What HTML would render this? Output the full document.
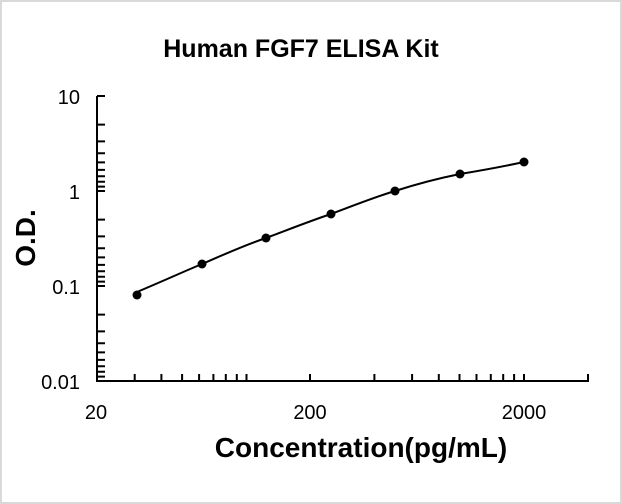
<!DOCTYPE html>
<html><head><meta charset="utf-8"><style>
html,body{margin:0;padding:0;background:#fff}
svg{display:block}
text{font-family:"Liberation Sans",sans-serif}
</style></head><body>
<svg width="622" height="504" viewBox="0 0 622 504" xmlns="http://www.w3.org/2000/svg">
<rect x="1" y="1" width="620" height="502" fill="#fff" stroke="#d9d9d9" stroke-width="2"/>
<text x="301" y="57" font-size="25" font-weight="bold" text-anchor="middle">Human FGF7 ELISA Kit</text>
<g stroke="#000" stroke-width="2" fill="none">
<path d="M97,96 V381 H589"/>
<path d="
M97,96h8 M97,124.6h8 M97,141.4h8 M97,153.2h8 M97,162.4h8 M97,169.9h8 M97,176.3h8 M97,181.8h8 M97,186.6h8
M97,191h8 M97,219.6h8 M97,236.4h8 M97,248.2h8 M97,257.4h8 M97,264.9h8 M97,271.3h8 M97,276.8h8 M97,281.6h8
M97,286h8 M97,314.6h8 M97,331.4h8 M97,343.2h8 M97,352.4h8 M97,359.9h8 M97,366.3h8 M97,371.8h8 M97,376.6h8"/>
<path d="
M134.7,381v-7 M161.4,381v-7 M182.1,381v-7 M199.1,381v-7 M213.4,381v-7 M225.8,381v-7 M236.8,381v-7 M246.5,381v-7
M310,381v-7 M374.4,381v-7 M412.1,381v-7 M438.8,381v-7 M459.5,381v-7 M476.5,381v-7 M490.8,381v-7 M503.2,381v-7 M514.1,381v-7
M524,381v-7 M588,381v-7"/>
<path d="M137,292 C170,278 185,271 202,264 C225,254 245,245 266,238 C290,229 310,221 331,214 C355,205 375,197 395,191 C420,183 440,178 460,174 C490,169 510,165 524,162"/>
</g>
<g fill="#000">
<circle cx="137" cy="295" r="4.5"/><circle cx="202" cy="264" r="4.5"/><circle cx="266" cy="238" r="4.5"/>
<circle cx="331" cy="214" r="4.5"/><circle cx="395" cy="191" r="4.5"/><circle cx="460" cy="174" r="4.5"/>
<circle cx="524" cy="162" r="4.5"/>
</g>
<g font-size="20" text-anchor="end">
<text x="80" y="104">10</text><text x="80" y="199">1</text><text x="80" y="294">0.1</text><text x="80" y="389">0.01</text>
</g>
<g font-size="20" text-anchor="middle">
<text x="96" y="419">20</text><text x="310" y="419">200</text><text x="524" y="419">2000</text>
</g>
<text x="361" y="457" font-size="28" font-weight="bold" text-anchor="middle">Concentration(pg/mL)</text>
<text transform="translate(35,238) rotate(-90)" font-size="28" font-weight="bold" text-anchor="middle">O.D.</text>
</svg>
</body></html>
